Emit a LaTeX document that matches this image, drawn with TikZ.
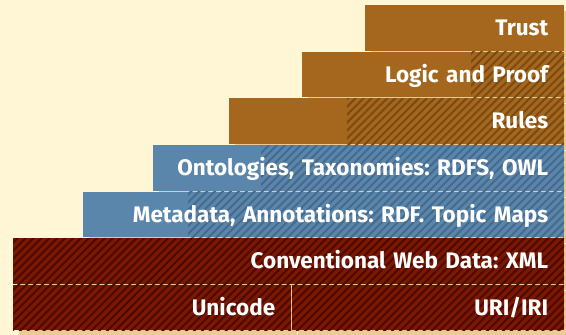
\documentclass[tikz,border=0pt]{standalone}
\usepackage{fontspec}
\setmainfont{Fira Sans}
\usetikzlibrary{patterns.meta,shadows}
\definecolor{bgc}{HTML}{FFF6D6}
\definecolor{brownc}{HTML}{A4671D}
\definecolor{brownh}{HTML}{7A4A10}
\definecolor{bluec}{HTML}{5A86AB}
\definecolor{blueh}{HTML}{466A8C}
\definecolor{redc}{HTML}{7A1800}
\definecolor{redh}{HTML}{4E0800}
\definecolor{shadowc}{HTML}{EACB94}
\frenchspacing
\begin{document}
\begin{tikzpicture}[x=1pt,y=-1pt,
  layerbox/.style={anchor=north west, minimum height=45.6pt, inner xsep=16pt, inner ysep=0pt,
    text width=#1, align=right, text height=15.5pt, text depth=0pt, text=white,
    font=\bfseries\fontsize{22.5}{22.5}\selectfont,
    drop shadow={shadow xshift=6pt, shadow yshift=-6pt, fill=shadowc, opacity=1}},
  hatchfrom/.style 2 args={path picture={\fill[pattern={Lines[angle=45,distance=5.6pt,line width=2pt]}, pattern color=#2]
    ([xshift=-#1]path picture bounding box.south east) rectangle (path picture bounding box.north east);}}
]
\fill[bgc] (0,0) rectangle (566,335);
\useasboundingbox (0,0) rectangle (566,335);
\node[layerbox=167pt, fill=brownc] (trust) at (365,5) {Trust};
\node[layerbox=230pt, fill=brownc, hatchfrom={93pt}{brownh}] (logic) at (302,51.6) {Logic and Proof};
\node[layerbox=303pt, fill=brownc, hatchfrom={217pt}{brownh}] (rules) at (229,98.2) {Rules};
\node[layerbox=379pt, fill=bluec, hatchfrom={303pt}{blueh}] (onto) at (153,144.8) {Ontologies, Taxonomies: RDFS, OWL};
\node[layerbox=449pt, fill=bluec, hatchfrom={376pt}{blueh}] (meta) at (83,191.4) {Metadata, Annotations: RDF. Topic Maps};
\node[layerbox=519pt, fill=redc, hatchfrom={600pt}{redh}] (xml) at (13,238) {Conventional Web Data: XML};
\node[layerbox=246pt, fill=redc, hatchfrom={600pt}{redh}] (unicode) at (13,284.6) {Unicode};
\node[layerbox=240pt, fill=redc, hatchfrom={600pt}{redh}] (uri) at (292,284.6) {URI/IRI};
\end{tikzpicture}
\end{document}
